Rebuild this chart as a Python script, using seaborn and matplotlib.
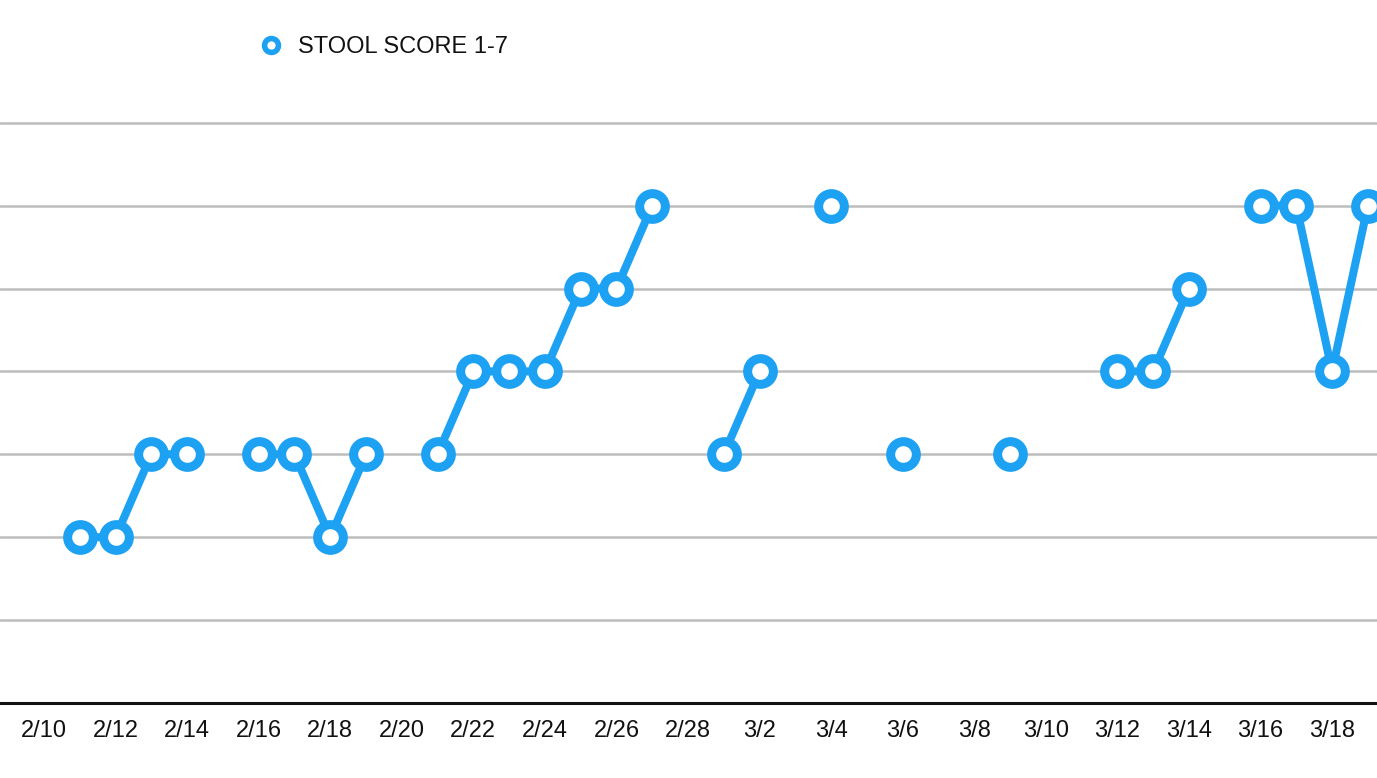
import matplotlib
matplotlib.use("Agg")
import matplotlib.pyplot as plt
from matplotlib.lines import Line2D
import numpy as np
import pandas as pd
import seaborn as sns

dates = ["2/10", "2/11", "2/12", "2/13", "2/14", "2/15", "2/16", "2/17", "2/18", "2/19",
         "2/20", "2/21", "2/22", "2/23", "2/24", "2/25", "2/26", "2/27", "2/28",
         "3/1", "3/2", "3/3", "3/4", "3/5", "3/6", "3/7", "3/8", "3/9", "3/10",
         "3/11", "3/12", "3/13", "3/14", "3/15", "3/16", "3/17", "3/18", "3/19"]
scores = [None, 2, 2, 3, 3, None, 3, 3, 2, 3,
          None, 3, 4, 4, 4, 5, 5, 6, None,
          3, 4, None, 6, None, 3, None, None, 3, None,
          None, 4, 4, 5, None, 6, 6, 4, 6]
series_name = "STOOL SCORE 1-7"
y_grid = [1, 2, 3, 4, 5, 6, 7]

color = "#1DA1F2"

sns.set_theme(style="white")
plt.rcParams["font.family"] = ["Liberation Sans", "DejaVu Sans"]

df = pd.DataFrame({"idx": np.arange(len(dates)), "score": pd.array(scores, dtype="Float64").astype(float)})
df["seg"] = df["score"].isna().cumsum()
df = df.dropna()

fig = plt.figure(figsize=(13.77, 7.78), dpi=100)
ax = fig.add_axes([0, 1 - 703 / 778, 1, 703 / 778])

sns.lineplot(data=df, x="idx", y="score", units="seg", estimator=None, sort=True,
             color=color, linewidth=5.8, marker="o", markersize=18.5,
             markerfacecolor="white", markeredgecolor=color, markeredgewidth=6.5,
             ax=ax, legend=False, zorder=3)

ax.set_xlim(-44 / 35.78, (1377 - 44) / 35.78)
ax.set_ylim(0, 703 / 82.9)
ax.set_yticks(y_grid)
ax.set_yticklabels([])
ax.grid(axis="y", color="#bdbdbd", linewidth=1.8)
ax.grid(axis="x", visible=False)
tick_idx = list(range(0, len(dates), 2))
ax.set_xticks(tick_idx)
ax.set_xticklabels([dates[i] for i in tick_idx], fontsize=17, color="#111111")
ax.tick_params(axis="x", length=0, pad=12)
ax.tick_params(axis="y", length=0)
ax.set_xlabel("")
ax.set_ylabel("")
for s in ["top", "left", "right"]:
    ax.spines[s].set_visible(False)
ax.spines["bottom"].set_color("#111111")
ax.spines["bottom"].set_linewidth(2.2)
ax.set_facecolor("white")

handle = Line2D([], [], linestyle="none", marker="o", markersize=10,
                markerfacecolor="white", markeredgecolor=color, markeredgewidth=4)
leg = fig.legend([handle], [series_name], loc="center left",
                 bbox_to_anchor=(259 / 1377, 1 - 47 / 778), frameon=False,
                 fontsize=17, handlelength=1, handletextpad=0.64, borderpad=0,
                 borderaxespad=0)
for t in leg.get_texts():
    t.set_color("#111111")

fig.savefig("out.png", dpi=100, facecolor="white")
